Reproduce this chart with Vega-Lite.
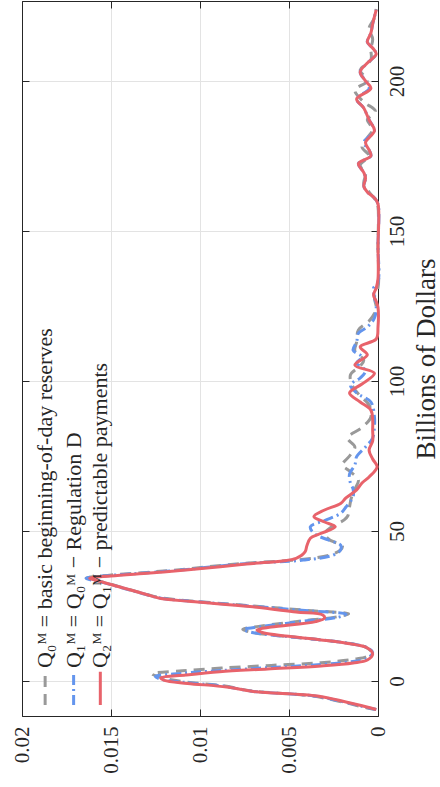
{
  "$schema": "https://vega.github.io/schema/vega-lite/v6.json",
  "width": 356,
  "height": 715,
  "autosize": {"type": "none"},
  "padding": {"left": 22, "top": 1, "right": 62, "bottom": 71},
  "background": "white",
  "config": {
    "view": {"stroke": "#262626", "strokeWidth": 1},
    "font": "Liberation Serif",
    "axis": {"labelFont": "Liberation Serif", "titleFont": "Liberation Serif", "labelColor": "#262626", "titleColor": "#262626", "domainColor": "#262626", "tickColor": "#262626", "titleFontWeight": "normal"}
  },
  "datasets": {
    "gray": [
      {"b": -9.5, "d": 0.0001}, {"b": -9, "d": 0.0006}, {"b": -7, "d": 0.002}, {"b": -5, "d": 0.0037}, {"b": -3.3, "d": 0.0071}, {"b": -1.6, "d": 0.0087}, {"b": -0.3, "d": 0.0108}, {"b": 1.2, "d": 0.0122}, {"b": 2.4, "d": 0.0127}, {"b": 3.4, "d": 0.011}, {"b": 4.3, "d": 0.0088}, {"b": 5.2, "d": 0.006}, {"b": 6.1, "d": 0.0032}, {"b": 7.2, "d": 0.0014}, {"b": 8.2, "d": 0.0006}, {"b": 9.8, "d": 0.0004}, {"b": 11.3, "d": 0.0007}, {"b": 12.7, "d": 0.0018}, {"b": 13.9, "d": 0.0035}, {"b": 15.2, "d": 0.0057}, {"b": 16.2, "d": 0.0071}, {"b": 17.2, "d": 0.0076}, {"b": 18.2, "d": 0.0067}, {"b": 20, "d": 0.0043}, {"b": 21.4, "d": 0.0023}, {"b": 22.4, "d": 0.00165}, {"b": 23.4, "d": 0.0037}, {"b": 25, "d": 0.007}, {"b": 26.7, "d": 0.0105}, {"b": 27.7, "d": 0.0122}, {"b": 29.2, "d": 0.0132}, {"b": 31.2, "d": 0.0144}, {"b": 33.2, "d": 0.0156}, {"b": 34.3, "d": 0.0164}, {"b": 35.2, "d": 0.0152}, {"b": 36.2, "d": 0.013}, {"b": 37.2, "d": 0.011}, {"b": 39.2, "d": 0.0076}, {"b": 40.5, "d": 0.0043}, {"b": 42, "d": 0.0027}, {"b": 43.7, "d": 0.0021}, {"b": 45, "d": 0.002}, {"b": 47, "d": 0.0027}, {"b": 49, "d": 0.003}, {"b": 51.4, "d": 0.0026}, {"b": 53.7, "d": 0.0019}, {"b": 55, "d": 0.0017}, {"b": 58, "d": 0.0016}, {"b": 61, "d": 0.0015}, {"b": 64, "d": 0.0013}, {"b": 67, "d": 0.0011}, {"b": 70, "d": 0.0016}, {"b": 72, "d": 0.002}, {"b": 75, "d": 0.0016}, {"b": 78, "d": 0.0013}, {"b": 81, "d": 0.0017}, {"b": 84.5, "d": 0.0009}, {"b": 88, "d": 0.0004}, {"b": 92, "d": 0.0005}, {"b": 95, "d": 0.001}, {"b": 98, "d": 0.0014}, {"b": 102, "d": 0.00155}, {"b": 105, "d": 0.001}, {"b": 107, "d": 0.0008}, {"b": 110, "d": 0.0013}, {"b": 113, "d": 0.0012}, {"b": 117, "d": 0.0011}, {"b": 120, "d": 0.0005}, {"b": 124, "d": 0.0001}, {"b": 128, "d": 0.0002}, {"b": 131, "d": 0}, {"b": 145, "d": 0}, {"b": 158, "d": 0}, {"b": 160, "d": 0.0001}, {"b": 163, "d": 0.0005}, {"b": 166, "d": 0.0008}, {"b": 169, "d": 0.0007}, {"b": 172, "d": 0.001}, {"b": 175, "d": 0.0005}, {"b": 178, "d": 0.0009}, {"b": 181, "d": 0.0006}, {"b": 184, "d": 0.0003}, {"b": 187, "d": 0.0006}, {"b": 190, "d": 0.00015}, {"b": 193, "d": 0.0008}, {"b": 197, "d": 0.0013}, {"b": 200, "d": 0.0006}, {"b": 203.7, "d": 0.001}, {"b": 207, "d": 0.0004}, {"b": 210.7, "d": 0.0004}, {"b": 214, "d": 0.0003}, {"b": 217.6, "d": 0.0005}, {"b": 221, "d": 0.0002}, {"b": 224, "d": 0.0001}
    ],
    "blue": [
      {"b": -9.5, "d": 0.0001}, {"b": -9, "d": 0.0005}, {"b": -7, "d": 0.0019}, {"b": -5, "d": 0.0036}, {"b": -3.4, "d": 0.0071}, {"b": -1.8, "d": 0.0086}, {"b": -0.5, "d": 0.0108}, {"b": 0.6, "d": 0.0122}, {"b": 1.5, "d": 0.0125}, {"b": 2.6, "d": 0.0109}, {"b": 3.5, "d": 0.0088}, {"b": 4.5, "d": 0.006}, {"b": 5.5, "d": 0.0032}, {"b": 6.5, "d": 0.0014}, {"b": 7.5, "d": 0.0006}, {"b": 9.5, "d": 0.0003}, {"b": 11.1, "d": 0.0006}, {"b": 12.6, "d": 0.0017}, {"b": 13.8, "d": 0.0034}, {"b": 15.1, "d": 0.0056}, {"b": 16.1, "d": 0.007}, {"b": 17.1, "d": 0.00755}, {"b": 18.1, "d": 0.0066}, {"b": 19.9, "d": 0.0042}, {"b": 21.3, "d": 0.0022}, {"b": 22.3, "d": 0.0018}, {"b": 23.3, "d": 0.0037}, {"b": 24.9, "d": 0.007}, {"b": 26.6, "d": 0.0105}, {"b": 27.6, "d": 0.0122}, {"b": 29.1, "d": 0.0132}, {"b": 31.1, "d": 0.0144}, {"b": 33.1, "d": 0.0156}, {"b": 34.2, "d": 0.0164}, {"b": 35.1, "d": 0.0152}, {"b": 36.1, "d": 0.0129}, {"b": 37.1, "d": 0.0109}, {"b": 39.1, "d": 0.0075}, {"b": 40.3, "d": 0.0042}, {"b": 42, "d": 0.0025}, {"b": 43.7, "d": 0.0021}, {"b": 45.3, "d": 0.0021}, {"b": 47, "d": 0.0028}, {"b": 49.2, "d": 0.0036}, {"b": 51.4, "d": 0.0038}, {"b": 53.5, "d": 0.003}, {"b": 55.9, "d": 0.0021}, {"b": 58, "d": 0.0018}, {"b": 61.4, "d": 0.0014}, {"b": 64, "d": 0.0014}, {"b": 66, "d": 0.00155}, {"b": 69, "d": 0.0016}, {"b": 72, "d": 0.0013}, {"b": 74.8, "d": 0.0012}, {"b": 78, "d": 0.0007}, {"b": 81, "d": 0.0003}, {"b": 84.8, "d": 0.0002}, {"b": 88, "d": 0.0002}, {"b": 93, "d": 0.0004}, {"b": 96, "d": 0.0012}, {"b": 98.7, "d": 0.00155}, {"b": 101, "d": 0.001}, {"b": 103.5, "d": 0.0007}, {"b": 106, "d": 0.0012}, {"b": 108, "d": 0.0009}, {"b": 110.3, "d": 0.0014}, {"b": 113, "d": 0.0012}, {"b": 115.9, "d": 0.0011}, {"b": 118, "d": 0.0006}, {"b": 121, "d": 0.0002}, {"b": 125, "d": 0.0001}, {"b": 128, "d": 0.0002}, {"b": 131, "d": 0.00025}, {"b": 133, "d": 0}, {"b": 145, "d": 0}, {"b": 159, "d": 0}, {"b": 161, "d": 0.0002}, {"b": 163, "d": 0.0006}, {"b": 165, "d": 0.0008}, {"b": 167.5, "d": 0.0007}, {"b": 169.5, "d": 0.0008}, {"b": 172.5, "d": 0.0011}, {"b": 175, "d": 0.0004}, {"b": 177, "d": 0.0005}, {"b": 179.5, "d": 0.0008}, {"b": 183.5, "d": 0.0002}, {"b": 187, "d": 0.0005}, {"b": 191, "d": 0.0008}, {"b": 194, "d": 0.0012}, {"b": 197.5, "d": 0.0005}, {"b": 200, "d": 0.0007}, {"b": 203, "d": 0.001}, {"b": 206, "d": 0.0006}, {"b": 209, "d": 0.0001}, {"b": 211, "d": 0.0003}, {"b": 213, "d": 0.0006}, {"b": 216, "d": 0.0004}, {"b": 219, "d": 0.0003}, {"b": 223.7, "d": 0.0001}
    ],
    "red": [
      {"b": -9.5, "d": 0.0001}, {"b": -9, "d": 0.0004}, {"b": -7, "d": 0.0018}, {"b": -5, "d": 0.0034}, {"b": -3.5, "d": 0.007}, {"b": -2, "d": 0.0085}, {"b": -0.8, "d": 0.0107}, {"b": 0.2, "d": 0.012}, {"b": 1, "d": 0.0122}, {"b": 2, "d": 0.0108}, {"b": 3.1, "d": 0.0089}, {"b": 4, "d": 0.0062}, {"b": 5, "d": 0.0032}, {"b": 6, "d": 0.0014}, {"b": 7, "d": 0.0006}, {"b": 9, "d": 0.0003}, {"b": 11, "d": 0.0006}, {"b": 12.5, "d": 0.0017}, {"b": 13.7, "d": 0.0032}, {"b": 15, "d": 0.0052}, {"b": 16, "d": 0.0064}, {"b": 17, "d": 0.0068}, {"b": 18, "d": 0.006}, {"b": 19.8, "d": 0.0035}, {"b": 21, "d": 0.003}, {"b": 22, "d": 0.0031}, {"b": 23, "d": 0.0046}, {"b": 24.8, "d": 0.0072}, {"b": 26.5, "d": 0.0105}, {"b": 27.5, "d": 0.0122}, {"b": 29, "d": 0.0131}, {"b": 31, "d": 0.0143}, {"b": 33, "d": 0.0155}, {"b": 34.2, "d": 0.0162}, {"b": 35, "d": 0.015}, {"b": 36, "d": 0.0128}, {"b": 37, "d": 0.0108}, {"b": 39, "d": 0.0074}, {"b": 40.9, "d": 0.0046}, {"b": 43, "d": 0.0041}, {"b": 45, "d": 0.004}, {"b": 47.6, "d": 0.0038}, {"b": 49, "d": 0.0033}, {"b": 51.4, "d": 0.0024}, {"b": 53, "d": 0.003}, {"b": 54.8, "d": 0.0036}, {"b": 57, "d": 0.003}, {"b": 59.2, "d": 0.0021}, {"b": 61, "d": 0.0018}, {"b": 63.7, "d": 0.0012}, {"b": 66, "d": 0.0009}, {"b": 68, "d": 0.0005}, {"b": 71.4, "d": 0.00005}, {"b": 74, "d": 0.0003}, {"b": 77, "d": 0.0005}, {"b": 80, "d": 0.0003}, {"b": 83.7, "d": 0.0003}, {"b": 87, "d": 0.0003}, {"b": 90.3, "d": 0.0004}, {"b": 93, "d": 0.001}, {"b": 96, "d": 0.0016}, {"b": 99, "d": 0.0009}, {"b": 102.6, "d": 0.0002}, {"b": 105.3, "d": 0.0013}, {"b": 108.7, "d": 0.0006}, {"b": 111.4, "d": 0.001}, {"b": 114, "d": 0.0001}, {"b": 118, "d": 0}, {"b": 124.5, "d": 0}, {"b": 126.5, "d": 0.0001}, {"b": 128.7, "d": 0.00025}, {"b": 131, "d": 0.0001}, {"b": 134, "d": 0}, {"b": 145, "d": 0}, {"b": 159, "d": 0}, {"b": 161, "d": 0.0002}, {"b": 163, "d": 0.0006}, {"b": 165, "d": 0.0008}, {"b": 167.5, "d": 0.0007}, {"b": 169.5, "d": 0.0008}, {"b": 172.5, "d": 0.0011}, {"b": 175, "d": 0.0004}, {"b": 177, "d": 0.0005}, {"b": 179.5, "d": 0.0007}, {"b": 183.5, "d": 0.0002}, {"b": 187, "d": 0.0005}, {"b": 191, "d": 0.0008}, {"b": 194, "d": 0.0012}, {"b": 197.5, "d": 0.0004}, {"b": 200, "d": 0.0007}, {"b": 203, "d": 0.001}, {"b": 206, "d": 0.0006}, {"b": 209, "d": 0.0001}, {"b": 211, "d": 0.0003}, {"b": 213, "d": 0.0006}, {"b": 216, "d": 0.0004}, {"b": 219, "d": 0.0003}, {"b": 223.7, "d": 0.0001}
    ],
    "legend": [
      {"s": "gray", "d": 0.0187, "b1": -8, "b2": 3.1, "tb": 4.3, "label": "Q₀ᴹ = basic beginning-of-day reserves"},
      {"s": "blue", "d": 0.0171, "b1": -8, "b2": 3.1, "tb": 4.3, "label": "Q₁ᴹ = Q₀ᴹ − Regulation D"},
      {"s": "red", "d": 0.0156, "b1": -8, "b2": 3.1, "tb": 4.3, "label": "Q₂ᴹ = Q₁ᴹ − predictable payments"}
    ]
  },
  "resolve": {"axis": {"x": "independent", "y": "independent"}},
  "layer": [
    {
      "data": {"name": "gray"},
      "mark": {"type": "line", "color": "#999999", "strokeWidth": 3, "strokeDash": [11, 7], "interpolate": "catmull-rom"},
      "encoding": {
        "x": {"field": "d", "type": "quantitative", "scale": {"domain": [0, 0.02], "reverse": true, "nice": false, "zero": false},
          "axis": {"orient": "bottom", "values": [0, 0.005, 0.01, 0.015, 0.02], "format": "~g", "title": null, "labelAngle": 270, "labelFontSize": 21, "labelPadding": 17, "tickSize": -7, "grid": true, "gridColor": "#e3e3e3", "gridWidth": 1}},
        "y": {"field": "b", "type": "quantitative", "scale": {"domain": [-11.67, 226.67], "nice": false, "zero": false},
          "axis": {"orient": "right", "values": [0, 50, 100, 150, 200], "title": "Billions of Dollars", "titleFontSize": 27, "titleAngle": 270, "titleBaseline": "top", "titlePadding": 6, "labelAngle": 270, "labelAlign": "center", "labelBaseline": "top", "labelFontSize": 21, "labelPadding": 15, "tickSize": -7, "grid": true, "gridColor": "#e3e3e3", "gridWidth": 1}},
        "order": {"field": "b", "type": "quantitative"}
      }
    },
    {
      "data": {"name": "blue"},
      "mark": {"type": "line", "color": "#6495ED", "strokeWidth": 3, "strokeDash": [10, 4, 2, 4], "interpolate": "catmull-rom"},
      "encoding": {
        "x": {"field": "d", "type": "quantitative", "axis": {"orient": "top", "labels": false, "title": null, "values": [0, 0.005, 0.01, 0.015, 0.02], "tickSize": -7, "grid": false}},
        "y": {"field": "b", "type": "quantitative", "axis": {"orient": "left", "labels": false, "title": null, "values": [0, 50, 100, 150, 200], "tickSize": -7, "grid": false}},
        "order": {"field": "b", "type": "quantitative"}
      }
    },
    {
      "data": {"name": "red"},
      "mark": {"type": "line", "color": "#E8636B", "strokeWidth": 3, "interpolate": "catmull-rom"},
      "encoding": {
        "x": {"field": "d", "type": "quantitative", "axis": null},
        "y": {"field": "b", "type": "quantitative", "axis": null},
        "order": {"field": "b", "type": "quantitative"}
      }
    },
    {
      "data": {"name": "legend"},
      "mark": {"type": "rule", "strokeWidth": 3},
      "encoding": {
        "x": {"field": "d", "type": "quantitative", "axis": null},
        "y": {"field": "b1", "type": "quantitative", "axis": null},
        "y2": {"field": "b2"},
        "color": {"field": "s", "type": "nominal", "scale": {"domain": ["gray", "blue", "red"], "range": ["#999999", "#6495ED", "#E8636B"]}, "legend": null},
        "strokeDash": {"field": "s", "type": "nominal", "scale": {"domain": ["gray", "blue", "red"], "range": [[11, 7], [10, 4, 2, 4], [1, 0]]}, "legend": null}
      }
    },
    {
      "data": {"name": "legend"},
      "mark": {"type": "text", "angle": 270, "align": "left", "baseline": "middle", "fontSize": 22, "font": "Liberation Serif, DejaVu Serif", "color": "#262626"},
      "encoding": {
        "x": {"field": "d", "type": "quantitative", "axis": null},
        "y": {"field": "tb", "type": "quantitative", "axis": null},
        "text": {"field": "label"}
      }
    }
  ]
}
